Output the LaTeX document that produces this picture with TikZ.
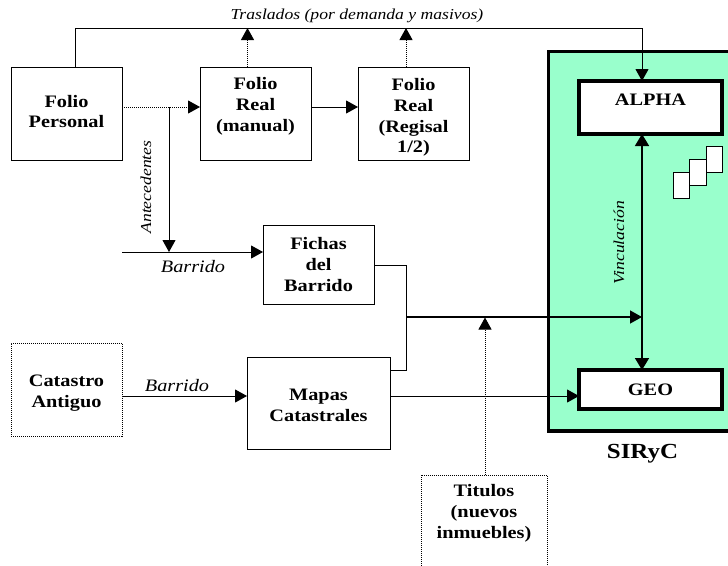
\documentclass[tikz,border=0pt]{standalone}
\usepackage{fontspec}
\setmainfont[FakeStretch=1.16]{Liberation Serif}
\usetikzlibrary{arrows.meta}
\definecolor{sirycgreen}{HTML}{99FFCC}
\newcommand{\bajar}[1]{\rule{0pt}{#1pt}}
\tikzset{
	caja/.style={draw,line width=1pt,fill=white,inner sep=0pt,align=center,font=\bfseries\fontsize{17.5}{20.8}\selectfont},
	cajapunto/.style={caja,densely dotted},
	cajagruesa/.style={caja,line width=3.2pt},
	etiqueta/.style={inner sep=0pt,font=\itshape\fontsize{17.5}{20.8}\selectfont},
	etiquetachica/.style={inner sep=0pt,font=\itshape\fontsize{15.2}{18}\selectfont},
	flecha/.style={line width=1pt,-{Triangle[length=12pt,width=13pt]}},
	flechapunto/.style={flecha,densely dotted},
	hoja/.style={draw,fill=white,line width=1pt,minimum width=16.5pt,minimum height=26.5pt,inner sep=0pt}
}
\begin{document}
\begin{tikzpicture}[x=1pt,y=-1pt]
\useasboundingbox (0,0) rectangle (728,565);
\clip (0,0) rectangle (728,565);
%SIRyC
\fill[sirycgreen] (548.5,51.5) rectangle (740,431);
\draw[line width=3.4pt] (548.5,51.5) rectangle (740,431);
\node (SIRyC) [inner sep=0pt,font=\bfseries\fontsize{21.5}{25}\selectfont] at (642.5,454) {SIRyC};
%cajas
\node (FP) [caja,minimum width=111pt,minimum height=93pt] at (66.5,113.5) {~\\[8pt]Folio\\Personal\\~};
\node (FRM) [caja,minimum width=111pt,minimum height=93pt] at (255.5,113.5) {\bajar{15}Folio\\Real\\(manual)\\~};
\node (FRR) [caja,minimum width=111pt,minimum height=93pt] at (413.5,113.5) {\bajar{20}Folio\\Real\\(Regisal\\1/2)};
\node (FB) [caja,minimum width=111pt,minimum height=79pt] at (318.5,264.5) {Fichas\\del\\Barrido};
\node (CA) [cajapunto,minimum width=111pt,minimum height=93pt] at (66.5,389.5) {\bajar{19}Catastro\\Antiguo};
\node (MC) [caja,minimum width=143pt,minimum height=92pt] at (318.5,403) {\bajar{16}Mapas\\Catastrales};
\node (TI) [cajapunto,minimum width=126pt,minimum height=114pt] at (484,532) {Titulos\\(nuevos\\inmuebles)\\~\\~};
\node (AL) [cajagruesa,minimum width=143pt,minimum height=53pt] at (650.5,107.5) {\bajar{16}ALPHA\\~};
\node (GE) [cajagruesa,minimum width=143pt,minimum height=39pt] at (650.5,389.5) {GEO};
%hojas
\node (H1) [hoja] at (681.5,185.5) {};
\node (H2) [hoja] at (698,172.5) {};
\node (H3) [hoja] at (714.5,159.5) {};
%puntos de paso
\coordinate (FPa) at (75,67);
\coordinate (FPb) at (75,28);
\coordinate (ALa) at (642,28);
\coordinate (ALb) at (642,81);
\coordinate (FRMa) at (247.5,67);
\coordinate (FRMb) at (247.5,28);
\coordinate (FRRa) at (406,67);
\coordinate (FRRb) at (406,28);
\coordinate (FPc) at (122,107);
\coordinate (FRMc) at (200,107);
\coordinate (FRMd) at (311,107);
\coordinate (FRRc) at (358,107);
\coordinate (AN) at (169,107);
\coordinate (BAa) at (122,252);
\coordinate (BAb) at (169,252);
\coordinate (BAc) at (263,252);
\coordinate (FBa) at (374,265);
\coordinate (FBb) at (406,265);
\coordinate (MCa) at (390,370);
\coordinate (MCb) at (406,370);
\coordinate (UNa) at (406,317);
\coordinate (UNb) at (642,317);
\coordinate (TIa) at (485,475);
\coordinate (TIb) at (485,317.5);
\coordinate (MCc) at (390,396);
\coordinate (GEa) at (579,396);
\coordinate (CAa) at (122,396);
\coordinate (MCd) at (247,396);
\coordinate (VIa) at (642,134);
\coordinate (VIb) at (642,370);
%flechas
\draw[flecha] (FPa)--(FPb)--(ALa)--(ALb);
\draw[flechapunto] (FRMa)--(FRMb);
\draw[flechapunto] (FRRa)--(FRRb);
\draw[flechapunto] (FPc)--(FRMc);
\draw[flecha] (FRMd)--(FRRc);
\draw[flecha] (AN)--(BAb);
\draw[flecha] (BAa)--(BAc);
\draw[line width=1pt] (FBa)--(FBb)--(MCb)--(MCa);
\draw[flecha,line width=1.4pt] (UNa)--(UNb);
\draw[flechapunto] (TIa)--(TIb);
\draw[flecha] (MCc)--(GEa);
\draw[flecha] (CAa)--(MCd);
\draw[line width=1.6pt,{Triangle[length=12pt,width=14pt]}-{Triangle[length=12pt,width=14pt]}] (VIa)--(VIb);
%etiquetas
\node (TR) [etiquetachica] at (357,16) {Traslados (por demanda y masivos)};
\node (AT) [etiquetachica,rotate=90] at (146,187) {Antecedentes};
\node (B1) [etiqueta] at (193,267) {Barrido};
\node (B2) [etiqueta] at (177,386) {Barrido};
\node (VI) [etiquetachica,rotate=90] at (619,243) {Vinculación};
\end{tikzpicture}
\end{document}
